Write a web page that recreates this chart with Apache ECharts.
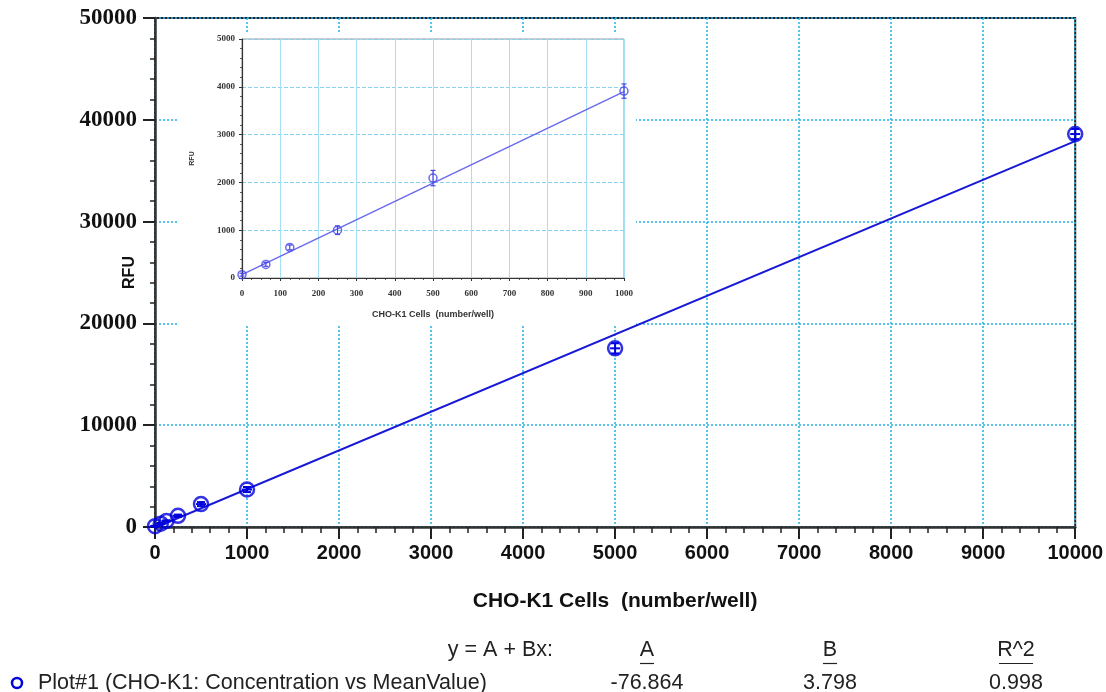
<!DOCTYPE html>
<html>
<head>
<meta charset="utf-8">
<script src="https://cdn.jsdelivr.net/npm/echarts@6/dist/echarts.min.js"></script>
<style>
html,body{margin:0;padding:0;background:#fff;}
#chart{width:1106px;height:692px;}
</style>
</head>
<body>
<div id="chart"></div>
<script>
// ---- data ----
var mainX = [0, 62.5, 125, 250, 500, 1000, 5000, 10000];
var mainY = [80, 330, 600, 1100, 2250, 3680, 17550, 38600];
var mainErr = [40, 60, 60, 120, 200, 250, 500, 500];

var insetX = [0, 62.5, 125, 250, 500, 1000];
var insetY = [70, 285, 640, 1000, 2090, 3910];
var insetErr = [30, 40, 50, 90, 160, 150];
var insetFitX = [0, 1000];
var insetFitY = [70, 3900];

var fitA = -76.864;
var fitB = 3.798;
var fitR2 = 0.998;
var fitX = [0, 10000];

var mainXTicks = ['0','1000','2000','3000','4000','5000','6000','7000','8000','9000','10000'];
var mainYTicks = ['0','10000','20000','30000','40000','50000'];
var insetXTicks = ['0','100','200','300','400','500','600','700','800','900','1000'];
var insetYTicks = ['0','1000','2000','3000','4000','5000'];

var legendName = 'Plot#1 (CHO-K1: Concentration vs MeanValue)';
var eqLabel = 'y = A + Bx:';
var colHeaders = ['A', 'B', 'R^2'];
var colValues = ['-76.864', '3.798', '0.998'];

// ---- build ----
function zip3(a, b, c) { return a.map(function (v, i) { return [v, b[i], c[i]]; }); }
function zip2(a, b) { return a.map(function (v, i) { return [v, b[i]]; }); }

var mainPts = zip3(mainX, mainY, mainErr);
var insetPts = zip3(insetX, insetY, insetErr);
var fitLine = fitX.map(function (x) { return [x, fitA + fitB * x]; });
var insetFit = zip2(insetFitX, insetFitY);

function errRender(cap, color, width, midBar) {
  return function (params, api) {
    var x = api.value(0), y = api.value(1), e = api.value(2);
    var top = api.coord([x, y + e]);
    var bot = api.coord([x, y - e]);
    var mid = api.coord([x, y]);
    var st = { stroke: color, lineWidth: width };
    var ch = [
      { type: 'line', shape: { x1: top[0], y1: top[1], x2: bot[0], y2: bot[1] }, style: st },
      { type: 'line', shape: { x1: top[0] - cap, y1: top[1], x2: top[0] + cap, y2: top[1] }, style: st },
      { type: 'line', shape: { x1: bot[0] - cap, y1: bot[1], x2: bot[0] + cap, y2: bot[1] }, style: st }
    ];
    if (midBar) {
      ch.push({ type: 'line', shape: { x1: mid[0] - midBar, y1: mid[1], x2: mid[0] + midBar, y2: mid[1] }, style: st });
    }
    return { type: 'group', children: ch };
  };
}

var MAIN_BLUE = '#0000dd';
var INSET_BLUE = '#4646e8';
var GRID_CYAN = '#2cb6ec';

var chart = echarts.init(document.getElementById('chart'), null, { renderer: 'canvas' });

var legendFont = 'Liberation Sans, Arial, sans-serif';
var LF = '21.5px ';
var colX = [647, 830, 1016];

var graphics = [
  { type: 'rect', z: 1, shape: { x: 178, y: 34, width: 458, height: 292 }, style: { fill: '#ffffff' } },
  { type: 'text', x: 553, y: 650, style: { text: eqLabel, font: LF + legendFont, fill: '#222', textAlign: 'right', textVerticalAlign: 'middle' } },
  { type: 'circle', shape: { cx: 17, cy: 683, r: 5 }, style: { fill: 'none', stroke: MAIN_BLUE, lineWidth: 2.5 } },
  { type: 'text', x: 38, y: 683, style: { text: legendName, font: LF + legendFont, fill: '#222', textAlign: 'left', textVerticalAlign: 'middle' } }
];
colHeaders.forEach(function (h, i) {
  graphics.push({ type: 'text', x: colX[i], y: 650, style: { text: h, font: LF + legendFont, fill: '#222', textAlign: 'center', textVerticalAlign: 'middle' } });
  var w = h.length > 1 ? 17 : 7;
  graphics.push({ type: 'line', shape: { x1: colX[i] - w, y1: 663.5, x2: colX[i] + w, y2: 663.5 }, style: { stroke: '#222', lineWidth: 1.2 } });
  graphics.push({ type: 'text', x: colX[i], y: 683, style: { text: colValues[i], font: LF + legendFont, fill: '#222', textAlign: 'center', textVerticalAlign: 'middle' } });
});

var option = {
  backgroundColor: '#ffffff',
  animation: false,
  grid: [
    { left: 155, top: 18, right: 28, bottom: 165, show: true, borderColor: '#222', borderWidth: 2, backgroundColor: 'transparent' },
    { left: 242, top: 39, width: 382, height: 239, show: true, borderColor: '#9a9a9a', borderWidth: 1, backgroundColor: 'transparent', z: 3 }
  ],
  xAxis: [
    {
      gridIndex: 0, type: 'value', min: 0, max: 10000, interval: 1000,
      name: 'CHO-K1 Cells  (number/well)', nameLocation: 'middle', nameGap: 64, nameMoveOverlap: false,
      nameTextStyle: { fontFamily: 'Liberation Sans, Arial', fontWeight: 'bold', fontSize: 21, color: '#111' },
      axisLine: { show: true, onZero: false, lineStyle: { color: '#333', width: 2.5 } },
      axisTick: { show: true, inside: false, length: 12, lineStyle: { color: '#222', width: 2 } },
      minorTick: { show: true, splitNumber: 5, length: 6, lineStyle: { color: '#222', width: 1.5 } },
      axisLabel: { margin: 16, fontFamily: 'Liberation Sans, Arial', fontWeight: 'bold', fontSize: 20, color: '#111',
        formatter: function (v) { return mainXTicks[Math.round(v / 1000)]; } },
      splitLine: { show: true, lineStyle: { color: GRID_CYAN, width: 1.6, type: [2, 2] } }
    },
    {
      gridIndex: 1, type: 'value', min: 0, max: 1000, interval: 100, z: 3,
      name: 'CHO-K1 Cells  (number/well)', nameLocation: 'middle', nameGap: 32, nameMoveOverlap: false,
      nameTextStyle: { fontFamily: 'Liberation Sans, Arial', fontWeight: 'bold', fontSize: 9, color: '#333' },
      axisLine: { show: true, onZero: false, lineStyle: { color: '#333', width: 1.2 } },
      axisTick: { show: true, length: 3, lineStyle: { color: '#333', width: 1 } },
      minorTick: { show: true, splitNumber: 4, length: 2, lineStyle: { color: '#333', width: 0.8 } },
      axisLabel: { margin: 11, fontFamily: 'Liberation Serif, Times New Roman', fontWeight: 'bold', fontSize: 9, color: '#333',
        formatter: function (v) { return insetXTicks[Math.round(v / 100)]; } },
      splitLine: { show: true, lineStyle: { color: '#a6def4', width: 1, type: 'solid' } }
    }
  ],
  yAxis: [
    {
      gridIndex: 0, type: 'value', min: 0, max: 50000, interval: 10000,
      name: 'RFU', nameLocation: 'middle', nameGap: 17, nameMoveOverlap: false,
      nameTextStyle: { fontFamily: 'Liberation Sans, Arial', fontWeight: 'bold', fontSize: 16, color: '#111' },
      axisLine: { show: true, onZero: false, lineStyle: { color: '#333', width: 2.5 } },
      axisTick: { show: true, inside: false, length: 12, lineStyle: { color: '#222', width: 2 } },
      minorTick: { show: true, splitNumber: 5, length: 5, lineStyle: { color: '#222', width: 1.5 } },
      axisLabel: { margin: 18, fontFamily: 'Liberation Serif, Times New Roman', fontWeight: 'bold', fontSize: 23, color: '#111',
        formatter: function (v) { return mainYTicks[Math.round(v / 10000)]; } },
      splitLine: { show: true, lineStyle: { color: GRID_CYAN, width: 1.6, type: [2, 2] } }
    },
    {
      gridIndex: 1, type: 'value', min: 0, max: 5000, interval: 1000, z: 3,
      name: 'RFU', nameLocation: 'middle', nameGap: 46, nameMoveOverlap: false,
      nameTextStyle: { fontFamily: 'Liberation Sans, Arial', fontWeight: 'bold', fontSize: 7, color: '#333' },
      axisLine: { show: true, onZero: false, lineStyle: { color: '#333', width: 1.2 } },
      axisTick: { show: true, length: 3, lineStyle: { color: '#333', width: 1 } },
      minorTick: { show: true, splitNumber: 5, length: 2, lineStyle: { color: '#333', width: 0.8 } },
      axisLabel: { margin: 7, fontFamily: 'Liberation Serif, Times New Roman', fontWeight: 'bold', fontSize: 9, color: '#333',
        formatter: function (v) { return insetYTicks[Math.round(v / 1000)]; } },
      splitLine: { show: true, lineStyle: { color: '#86d2f0', width: 1, type: [4, 2] } }
    }
  ],
  graphic: { elements: graphics },
  series: [
    {
      type: 'line', xAxisIndex: 0, yAxisIndex: 0, data: fitLine, showSymbol: false, symbol: 'none',
      lineStyle: { color: '#1818d8', width: 2 }, clip: true, z: 2, silent: true
    },
    {
      type: 'custom', xAxisIndex: 0, yAxisIndex: 0, data: mainPts, renderItem: errRender(4, MAIN_BLUE, 2, 5),
      encode: { x: 0, y: 1 }, z: 3, clip: false, silent: true
    },
    {
      type: 'scatter', xAxisIndex: 0, yAxisIndex: 0, data: mainPts.map(function (p) { return [p[0], p[1]]; }),
      symbol: 'circle', symbolSize: 14,
      itemStyle: { color: 'rgba(0,0,0,0)', borderColor: MAIN_BLUE, borderWidth: 2.5 }, z: 4, clip: false, silent: true
    },
    {
      type: 'line', xAxisIndex: 1, yAxisIndex: 1, data: insetFit, showSymbol: false, symbol: 'none',
      lineStyle: { color: '#6a6aee', width: 1.5 }, z: 5, silent: true
    },
    {
      type: 'custom', xAxisIndex: 1, yAxisIndex: 1, data: insetPts, renderItem: errRender(2.5, INSET_BLUE, 1.2, 0),
      encode: { x: 0, y: 1 }, z: 6, clip: false, silent: true
    },
    {
      type: 'scatter', xAxisIndex: 1, yAxisIndex: 1, data: insetPts.map(function (p) { return [p[0], p[1]]; }),
      symbol: 'circle', symbolSize: 8,
      itemStyle: { color: 'rgba(0,0,0,0)', borderColor: INSET_BLUE, borderWidth: 1.5 }, z: 7, clip: false, silent: true
    }
  ]
};
chart.setOption(option);
</script>
</body>
</html>
